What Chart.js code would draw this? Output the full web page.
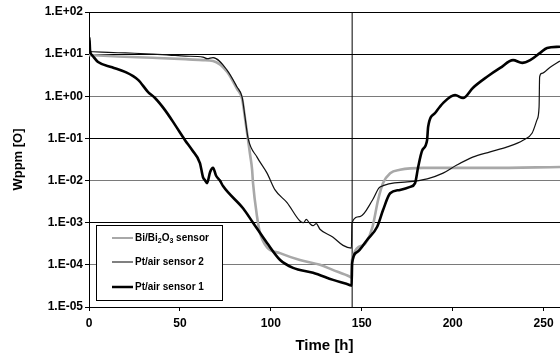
<!DOCTYPE html>
<html>
<head>
<meta charset="utf-8">
<script src="https://cdn.jsdelivr.net/npm/chart.js@4.4.0/dist/chart.umd.min.js"></script>
<style>
html,body{margin:0;padding:0;background:#fff;}
#wrap{width:560px;height:356px;position:relative;}
</style>
</head>
<body>
<div id="wrap"><canvas id="c" width="560" height="356"></canvas></div>
<script>
// ---- data (time in h, concentration in wppm) ----
const xTicks = [0, 50, 100, 150, 200, 250];
const yTicks = [1e-5, 1e-4, 1e-3, 1e-2, 1e-1, 1, 10, 100];
const yTickLabels = ["1.E-05","1.E-04","1.E-03","1.E-02","1.E-01","1.E+00","1.E+01","1.E+02"];
const switchTime = 144.7;

const pt1T = [0, 0.2, 0.6, 1.65, 5, 12.7, 19.8, 27, 32.5, 36.3, 41.8, 47.3, 52.8, 56.7, 61, 62.7, 63.8, 64.9, 66.6, 68.2, 69.9, 72, 73.7, 84.7, 90.2, 97.9, 105.1, 112.2, 123.2, 134.2, 143.6, 144.4, 144.7, 147.4, 152.9, 158.4, 161.7, 165.6, 171, 176.6, 179.3, 181, 183.2, 185.9, 186.5, 190.3, 194.7, 201.3, 205.7, 211.2, 218.9, 226.1, 233.2, 238.2, 242.6, 248.1, 251.9, 259];
const pt1V = [10.5, 25, 12, 9.5, 6.5, 4.9, 3.8, 2.45, 1.26, 0.91, 0.47, 0.21, 0.091, 0.053, 0.026, 0.012, 0.0102, 0.0087, 0.016, 0.020, 0.013, 0.010, 0.0074, 0.0022, 0.001, 3.3e-4, 1.3e-4, 8.5e-5, 6.5e-5, 4.4e-5, 3.3e-5, 3.2e-5, 1.1e-4, 2.0e-4, 3.9e-4, 7.9e-4, 2.0e-3, 5.0e-3, 6.0e-3, 7.1e-3, 8.7e-3, 0.021, 0.052, 0.091, 0.19, 0.40, 0.69, 1.07, 0.91, 1.6, 2.9, 4.7, 7.2, 6.2, 7.2, 10.7, 14, 15];

const pt2T = [0, 7, 16, 25, 35, 44, 53, 62.7, 65, 68.2, 75.9, 81.4, 84.2, 85.8, 87.5, 92.4, 97.9, 102.3, 108.9, 116, 118, 119.5, 121.5, 123.2, 125, 127, 134, 139.7, 144.3, 144.6, 149, 156, 160, 175, 186, 194.7, 202, 211, 220.6, 230, 238.7, 243.7, 246.4, 247.5, 247.8, 249, 253.6, 259];
const pt2V = [11.5, 11.2, 10.8, 10.5, 10, 9.5, 9, 8.5, 7.8, 8.3, 4.2, 1.66, 0.95, 0.32, 0.10, 0.036, 0.015, 0.006, 0.003, 1.1e-3, 1.0e-3, 1.2e-3, 9.5e-4, 8.5e-4, 9.5e-4, 7.0e-4, 4.6e-4, 2.9e-4, 2.5e-4, 1.0e-3, 1.4e-3, 3.5e-3, 7.0e-3, 9.3e-3, 0.011, 0.015, 0.023, 0.036, 0.048, 0.063, 0.091, 0.135, 0.28, 0.56, 2.9, 3.5, 4.9, 6.9];

const biT = [0, 16, 35, 53, 62.7, 68.2, 76, 81.4, 84.2, 85.8, 87.5, 88.6, 89.7, 90.2, 92.4, 94, 97.9, 105, 116, 127, 134, 143.6, 144.3, 144.6, 150.7, 155.7, 159, 161.7, 165.6, 171, 183.7, 220, 259];
const biV = [9.5, 8.8, 8.2, 7.6, 7.2, 6.9, 3.8, 1.5, 0.87, 0.30, 0.09, 0.041, 0.018, 0.0087, 1.4e-3, 5.8e-4, 2.6e-4, 1.9e-4, 1.3e-4, 1.0e-4, 7.6e-5, 5.2e-5, 5.0e-5, 1.3e-4, 2.9e-4, 7.4e-4, 3.5e-3, 8.7e-3, 0.015, 0.018, 0.020, 0.020, 0.021];

const seriesNames = ["Bi/Bi2O3 sensor", "Pt/air sensor 2", "Pt/air sensor 1"];

function pts(t, v) { return t.map((x, i) => ({x: x, y: v[i]})); }

const FONT = "'Liberation Sans', Arial, sans-serif";

const legendPlugin = {
  id: 'boxLegend',
  afterDraw(chart) {
    const ctx = chart.ctx;
    ctx.save();
    const bx = 96.5, by = 225.5, bw = 126, bh = 75;
    ctx.fillStyle = '#fff';
    ctx.fillRect(bx, by, bw, bh);
    ctx.strokeStyle = '#000';
    ctx.lineWidth = 1;
    ctx.strokeRect(bx, by, bw, bh);
    const rows = [
      {y: 238, color: '#a8a8a8', w: 2},
      {y: 262, color: '#808080', w: 2},
      {y: 287, color: '#000', w: 2.5}
    ];
    rows.forEach(r => {
      ctx.strokeStyle = r.color;
      ctx.lineWidth = r.w;
      ctx.beginPath();
      ctx.moveTo(112, r.y);
      ctx.lineTo(133, r.y);
      ctx.stroke();
    });
    ctx.fillStyle = '#000';
    ctx.textBaseline = 'middle';
    ctx.textAlign = 'left';
    const big = "bold 10px " + FONT, small = "bold 7px " + FONT;
    let x = 135, y = rows[0].y;
    const parts = [["Bi/Bi", big, 0], ["2", small, 3], ["O", big, 0], ["3", small, 3], [" sensor", big, 0]];
    parts.forEach(p => {
      ctx.font = p[1];
      ctx.fillText(p[0], x, y + p[2]);
      x += ctx.measureText(p[0]).width;
    });
    ctx.font = big;
    ctx.fillText(seriesNames[1], 135, rows[1].y);
    ctx.fillText(seriesNames[2], 135, rows[2].y);
    ctx.restore();
  }
};

const gridColors = {"10": "#000", "1": "#7a7a7a", "0.1": "#000", "0.01": "#7a7a7a", "0.001": "#000", "0.0001": "#7a7a7a", "100": "#000", "0.00001": "#000"};

new Chart(document.getElementById('c'), {
  type: 'scatter',
  data: {
    datasets: [
      {label: seriesNames[2], data: pts(pt1T, pt1V), showLine: true, borderColor: '#000', borderWidth: 2.6, pointRadius: 0, cubicInterpolationMode: 'monotone'},
      {label: seriesNames[1], data: pts(pt2T, pt2V), showLine: true, borderColor: '#111', borderWidth: 1.2, pointRadius: 0, cubicInterpolationMode: 'monotone'},
      {label: seriesNames[0], data: pts(biT, biV), showLine: true, borderColor: '#a8a8a8', borderWidth: 2.6, pointRadius: 0, cubicInterpolationMode: 'monotone'},
      {label: 'switch', data: [{x: switchTime, y: 1e-5}, {x: switchTime, y: 100}], showLine: true, borderColor: '#000', borderWidth: 1, pointRadius: 0}
    ]
  },
  options: {
    responsive: false,
    animation: false,
    layout: {padding: {left: 0, right: 0, top: 12, bottom: 0}},
    plugins: {legend: {display: false}, tooltip: {enabled: false}},
    scales: {
      x: {
        type: 'linear', min: 0, max: 259,
        afterBuildTicks: s => { s.ticks = xTicks.map(v => ({value: v})); },
        afterFit: s => { s.height = 49; },
        grid: {drawOnChartArea: false, drawTicks: true, tickLength: 4, tickColor: '#000'},
        border: {display: true, color: '#000', width: 1},
        ticks: {color: '#000', padding: 5, maxRotation: 0, font: {family: FONT, size: 12, weight: 'bold'}},
        title: {display: true, text: 'Time [h]', color: '#000', padding: {top: 0, bottom: 1}, font: {family: FONT, size: 15, weight: 'bold'}}
      },
      y: {
        type: 'logarithmic', min: 1e-5, max: 100,
        afterBuildTicks: s => { s.ticks = yTicks.map(v => ({value: v})); },
        afterFit: s => { s.width = 89; },
        grid: {
          color: c => (c.tick ? (gridColors[String(c.tick.value)] || '#000') : '#000'),
          lineWidth: 1, drawTicks: true, tickLength: 4, tickColor: '#000'
        },
        border: {display: true, color: '#000', width: 1},
        ticks: {
          color: '#000', padding: 2,
          font: {family: FONT, size: 12, weight: 'bold'},
          callback: (v) => { const i = yTicks.findIndex(t => Math.abs(Math.log10(t) - Math.log10(v)) < 1e-6); return i >= 0 ? yTickLabels[i] : ''; }
        },
        title: {display: true, text: 'Wppm [O]', color: '#000', padding: {top: 11, bottom: 0}, font: {family: FONT, size: 13, weight: 'bold'}}
      }
    }
  },
  plugins: [legendPlugin]
});
</script>
</body>
</html>
